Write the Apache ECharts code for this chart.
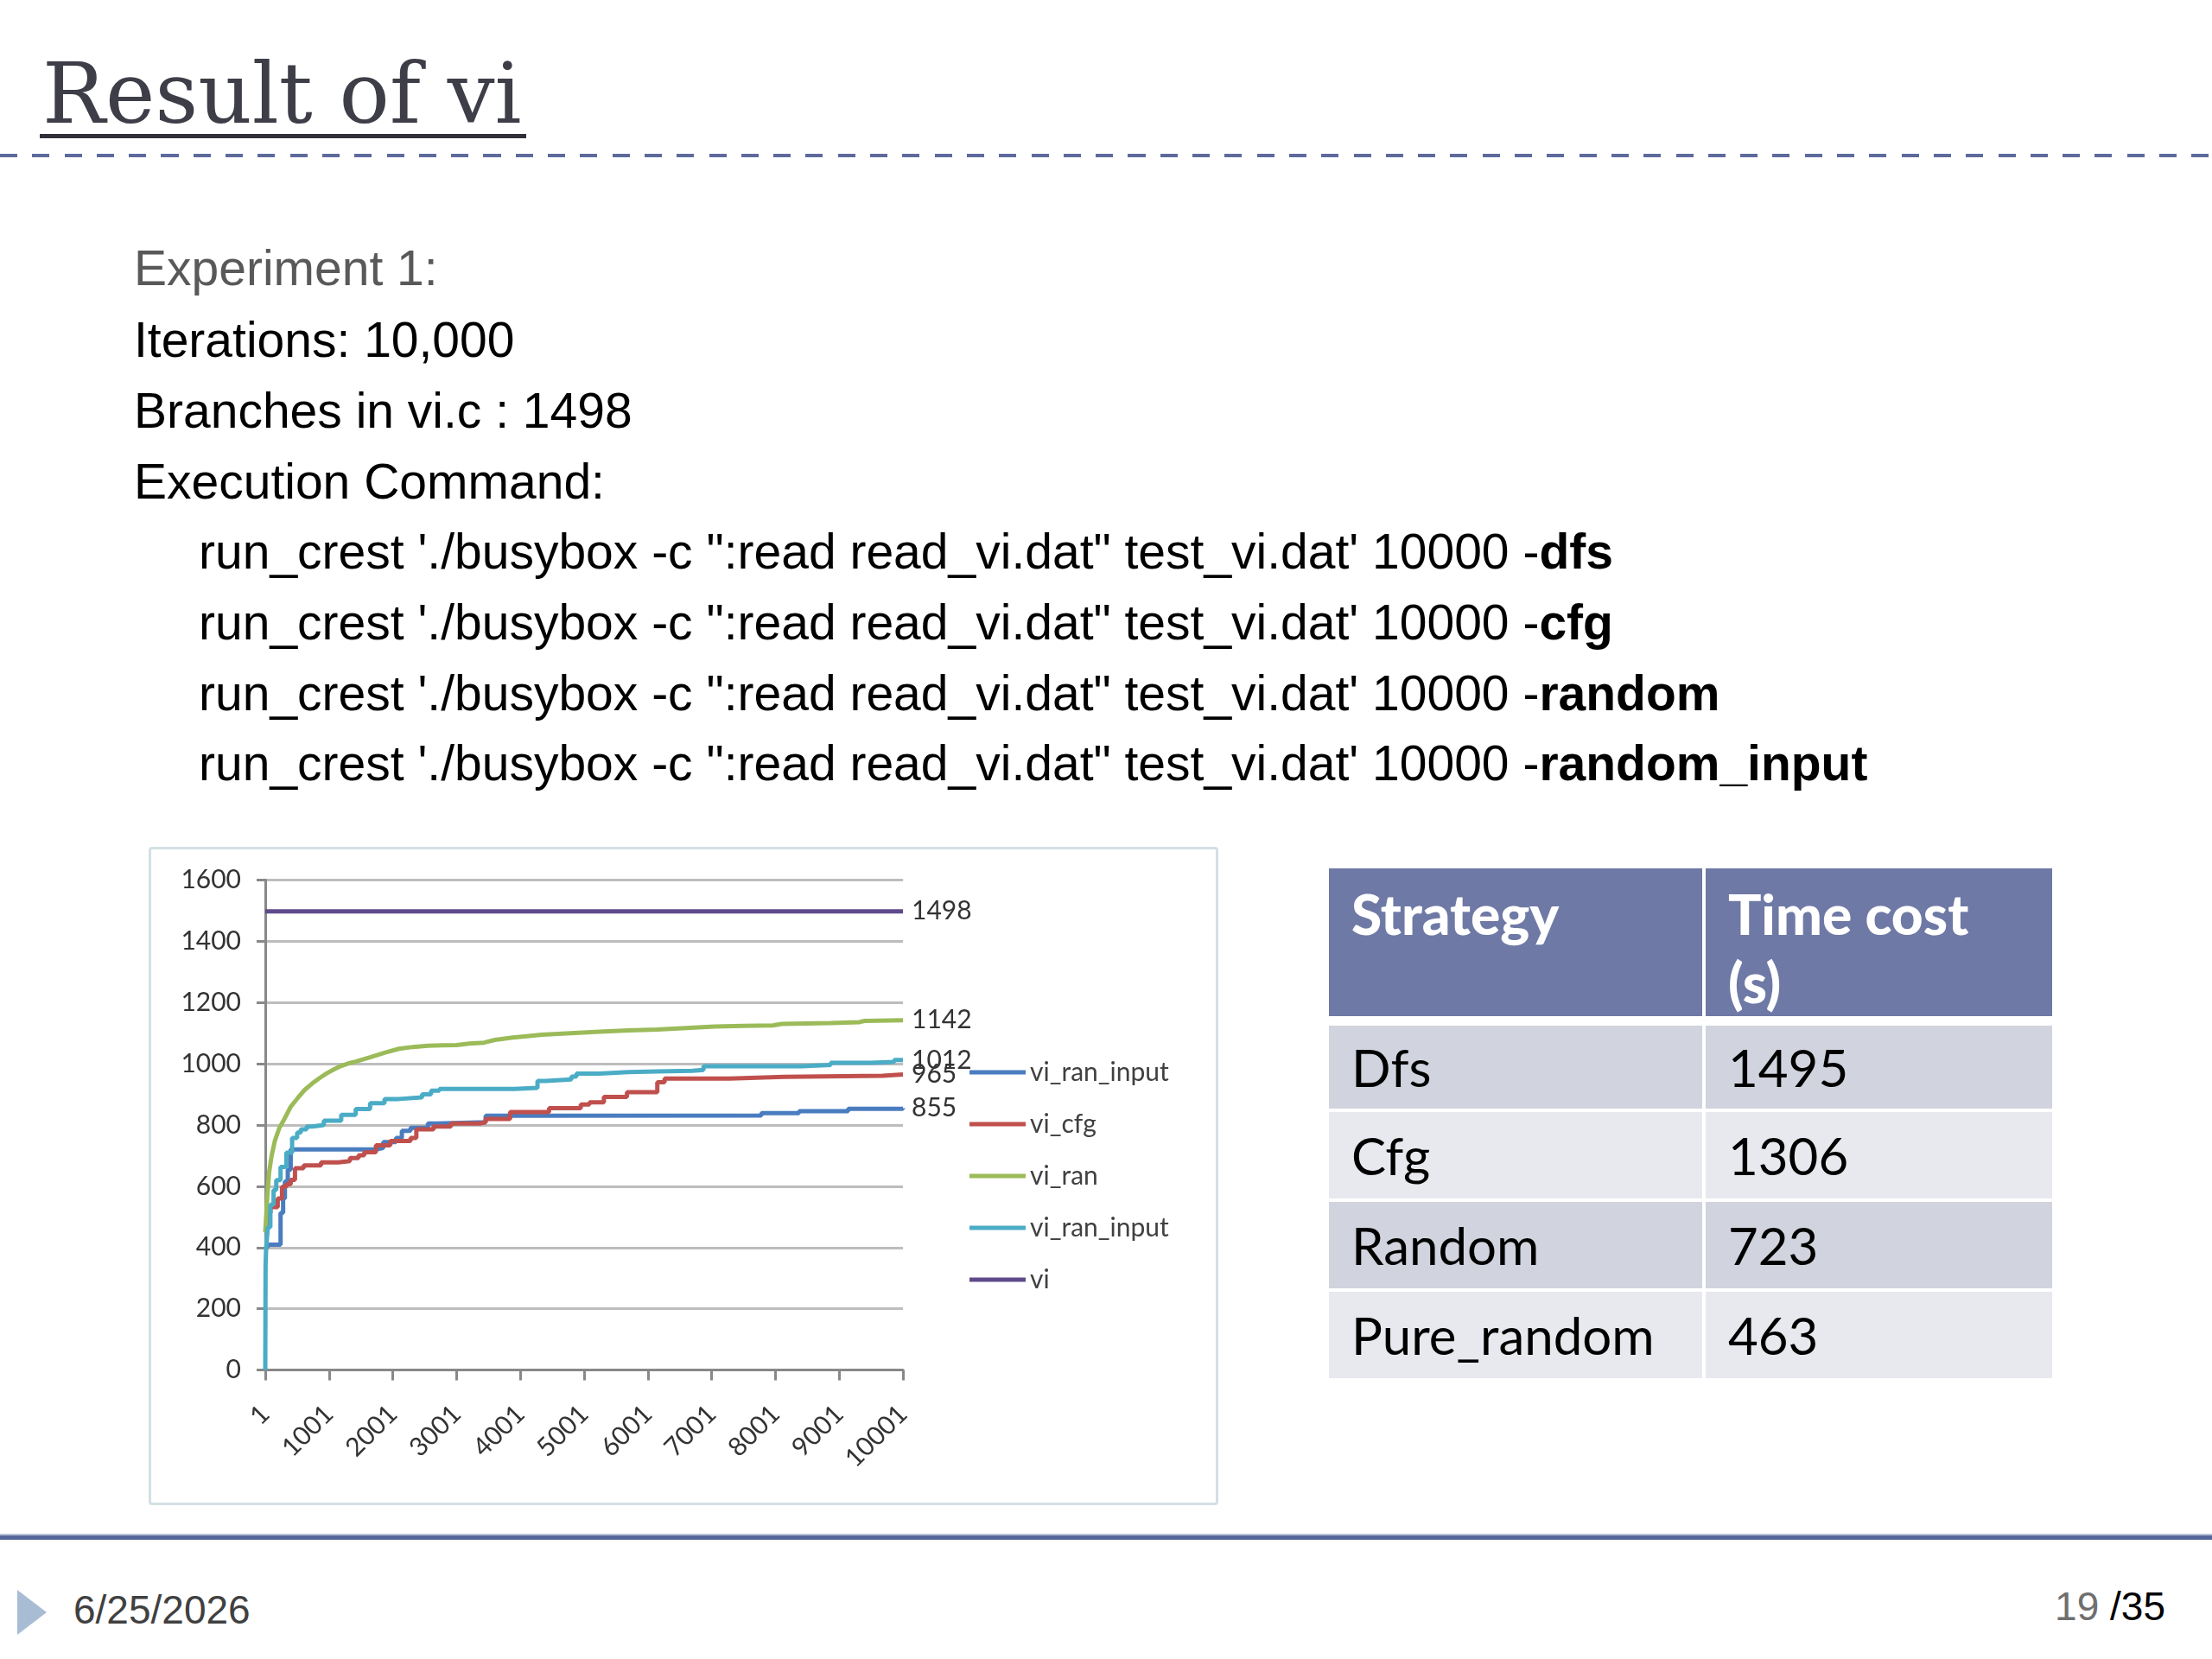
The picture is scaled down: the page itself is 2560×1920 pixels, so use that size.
<!DOCTYPE html>
<html>
<head>
<meta charset="utf-8">
<script src="https://cdn.jsdelivr.net/npm/echarts@6/dist/echarts.min.js"></script>
<style>
  html, body { margin: 0; padding: 0; background: #fff; }
  #page { position: relative; width: 2560px; height: 1920px; overflow: hidden; background: #fff; }
  .abs { position: absolute; white-space: pre; }
  .body { font-family: "Liberation Sans", Arial, sans-serif; font-size: 57px; line-height: 82px; height: 82px; color: #000; }
  .cell { position: absolute; box-sizing: border-box; font-family: Lato, "Open Sans", sans-serif; }
</style>
</head>
<body>
<div id="page">
  <div class="abs" style="left:49px;top:60px;font-family:'DejaVu Serif',serif;font-size:97px;line-height:97px;color:#3d3e47;">Result of vi</div>
  <div class="abs" style="left:46px;top:155px;width:563px;height:5px;background:#2f3038;"></div>
  <div class="abs" style="left:0;top:178px;width:2560px;height:4px;background:repeating-linear-gradient(to right,#5d6a9c 0px,#5d6a9c 20px,transparent 20px,transparent 37.3px);"></div>
  <div id="textBlock"></div>
  <div id="chart" class="abs" style="left:176px;top:984px;width:1234px;height:756px;"></div>
  <div class="abs" style="left:172px;top:980px;width:1238px;height:762px;box-sizing:border-box;border:3px solid #d3e0e4;border-radius:4px;pointer-events:none;"></div>
  <div id="table"></div>
  <div class="abs" style="left:0;top:1775px;width:2560px;height:2px;background:#b9c1d8;"></div>
  <div class="abs" style="left:0;top:1777px;width:2560px;height:5px;background:#56669a;"></div>
  <div class="abs" style="left:20px;top:1840px;width:0;height:0;border-top:26px solid transparent;border-bottom:26px solid transparent;border-left:34px solid #a8bdd4;"></div>
  <div class="abs" style="left:85px;top:1822px;font-family:'Liberation Sans',Arial,sans-serif;font-size:46px;line-height:82px;color:#404040;">6/25/2026</div>
  <div class="abs" style="right:54px;top:1818px;font-family:'Liberation Sans',Arial,sans-serif;font-size:46px;line-height:82px;color:#000;"><span style="color:#6f6f6f;">19</span> /35</div>
</div>
<script>
// ---------- slide text ----------
const infoLines = ['Experiment 1:', 'Iterations: 10,000', 'Branches in vi.c : 1498', 'Execution Command:'];
const commandPrefix = "run_crest './busybox -c \":read read_vi.dat\" test_vi.dat' 10000 -";
const commandFlags = ['dfs', 'cfg', 'random', 'random_input'];

// ---------- table ----------
const tableHeaders = ['Strategy', 'Time cost\n(s)'];
const strategies = ['Dfs', 'Cfg', 'Random', 'Pure_random'];
const timeCosts = [1495, 1306, 723, 463];

// ---------- chart ----------
const xTickLabels = ['1', '1001', '2001', '3001', '4001', '5001', '6001', '7001', '8001', '9001', '10001'];
const seriesNames = ['vi_ran_input#1', 'vi_cfg', 'vi_ran', 'vi_ran_input#2', 'vi'];
const seriesColors = ['#4a7dbf', '#c0504d', '#9bbb59', '#4bacc6', '#5e4a8b'];
// [iteration index (0 = iteration 1), branches covered]
const viRanInputA = [[0,400],[36,409],[240,513],[280,560],[308,616],[353,654],[399,720],[1508,720],[1735,725],[1850,744],[2050,758],[2142,781],[2278,791],[2550,805],[2700,809],[3456,830],[3839,831],[7780,839],[8370,845],[9140,853],[10000,855]];
const viCfg = [[0,470],[36,513],[82,532],[195,560],[263,598],[331,607],[399,621],[466,659],[602,668],[874,678],[1146,682],[1327,692],[1463,701],[1553,711],[1735,734],[1961,748],[2278,758],[2369,786],[2640,795],[2912,805],[3365,809],[3456,820],[3839,842],[4450,855],[4948,867],[5084,874],[5310,892],[5672,907],[6148,940],[6262,952],[7280,957],[8140,961],[9681,965],[10000,965]];
const viRan = [[0,450],[30,560],[60,645],[100,700],[150,748],[220,790],[285,814],[400,860],[512,889],[620,915],[738,936],[850,953],[965,969],[1080,982],[1191,993],[1300,1001],[1418,1007],[1530,1014],[1644,1021],[1870,1036],[2097,1049],[2320,1055],[2550,1059],[2780,1060],[3003,1061],[3200,1066],[3431,1069],[3600,1078],[3883,1086],[4100,1090],[4337,1095],[4789,1100],[5242,1105],[5696,1109],[6148,1112],[6601,1117],[7054,1122],[7507,1124],[7960,1125],[8100,1130],[8866,1133],[9318,1136],[9400,1140],[10000,1142]];
const viRanInputB = [[0,0],[5,343],[14,400],[40,466],[80,540],[130,588],[172,620],[240,663],[331,710],[421,758],[500,775],[557,786],[650,795],[738,800],[919,814],[1191,833],[1418,852],[1644,871],[1870,885],[2097,890],[2459,900],[2600,912],[2731,918],[3456,918],[3908,921],[4269,944],[4400,949],[4800,958],[4880,968],[5242,973],[5696,975],[6148,977],[6700,980],[6872,992],[8413,996],[8866,1003],[9500,1006],[9862,1012],[10000,1012]];
const vi = [[0,1498],[10000,1498]];

const seriesData = [viRanInputA, viCfg, viRan, viRanInputB, vi];
const seriesStep = ['end', 'end', false, 'end', false];

// ---- build slide text ----
(function () {
  const tb = document.getElementById('textBlock');
  const centers = [310, 393, 475, 557, 638, 720, 802, 883];
  infoLines.forEach((t, i) => {
    const d = document.createElement('div');
    d.className = 'abs body';
    d.style.left = '155px';
    d.style.top = (centers[i] - 41) + 'px';
    if (i === 0) d.style.color = '#595959';
    d.textContent = t;
    tb.appendChild(d);
  });
  commandFlags.forEach((f, j) => {
    const d = document.createElement('div');
    d.className = 'abs body';
    d.style.left = '230px';
    d.style.top = (centers[4 + j] - 41) + 'px';
    const a = document.createElement('span');
    a.textContent = commandPrefix;
    const b = document.createElement('b');
    b.textContent = f;
    d.appendChild(a); d.appendChild(b);
    tb.appendChild(d);
  });
})();

// ---- build table ----
(function () {
  const t = document.getElementById('table');
  const colX = [1538, 1974];
  const colW = [432, 401];
  const rowY = [1187, 1287, 1391, 1495];
  const rowH = [96, 100, 100, 100];
  tableHeaders.forEach((h, c) => {
    const d = document.createElement('div');
    d.className = 'cell';
    Object.assign(d.style, {
      left: colX[c] + 'px', top: '1005px', width: colW[c] + 'px', height: '171px',
      background: '#6f79a5', color: '#fff', fontWeight: '900', fontSize: '64px',
      lineHeight: '79px', padding: '13px 0 0 26px', whiteSpace: 'pre'
    });
    d.textContent = h;
    t.appendChild(d);
  });
  strategies.forEach((s, r) => {
    const vals = [s, String(timeCosts[r])];
    vals.forEach((v, c) => {
      const d = document.createElement('div');
      d.className = 'cell';
      Object.assign(d.style, {
        left: colX[c] + 'px', top: rowY[r] + 'px', width: colW[c] + 'px', height: rowH[r] + 'px',
        background: r % 2 === 0 ? '#d1d4de' : '#e8e9ef', color: '#000', fontSize: '60px',
        lineHeight: rowH[r] + 'px', paddingLeft: '26px'
      });
      d.textContent = v;
      t.appendChild(d);
    });
  });
})();

// ---- chart ----
const chart = echarts.init(document.getElementById('chart'));
const fontFamily = 'Lato, "Open Sans", sans-serif';
chart.setOption({
  animation: false,
  textStyle: { fontFamily: fontFamily },
  grid: { left: 131, top: 34.5, width: 738, height: 567, containLabel: false },
  legend: {
    orient: 'vertical',
    left: 941, top: 237,
    itemWidth: 65, itemHeight: 5, itemGap: 30,
    icon: 'rect',
    data: seriesNames,
    formatter: (n) => n.split('#')[0],
    textStyle: { fontSize: 30, lineHeight: 30, color: '#404040', fontFamily: fontFamily, padding: [0, 0, 0, 0] },
    selectedMode: false
  },
  xAxis: {
    type: 'value', min: 0, max: 10000, interval: 1000,
    axisLine: { show: true, onZero: false, lineStyle: { color: '#888', width: 3 } },
    axisTick: { show: true, length: 12, lineStyle: { color: '#888', width: 3 } },
    splitLine: { show: false },
    axisLabel: {
      rotate: 45, margin: 46, fontSize: 30, color: '#333', fontFamily: fontFamily,
      formatter: (v) => xTickLabels[Math.round(v / 1000)]
    }
  },
  yAxis: {
    type: 'value', min: 0, max: 1600, interval: 200,
    axisLine: { show: true, lineStyle: { color: '#888', width: 3 } },
    axisTick: { show: true, length: 10, lineStyle: { color: '#888', width: 3 } },
    splitLine: { show: true, lineStyle: { color: '#bdbdbd', width: 3 } },
    axisLabel: { margin: 28, fontSize: 30, color: '#333', fontFamily: fontFamily, formatter: (v) => String(v) }
  },
  series: seriesNames.map((name, i) => ({
    name: name,
    type: 'line',
    data: seriesData[i],
    step: seriesStep[i],
    showSymbol: false,
    symbol: 'none',
    color: seriesColors[i],
    lineStyle: { width: 5, color: seriesColors[i] },
    endLabel: {
      show: true, distance: 10, fontSize: 30, color: '#333', fontFamily: fontFamily,
      formatter: (p) => String(p.value[1])
    },
    z: 2 + i
  }))
});
</script>
</body>
</html>
